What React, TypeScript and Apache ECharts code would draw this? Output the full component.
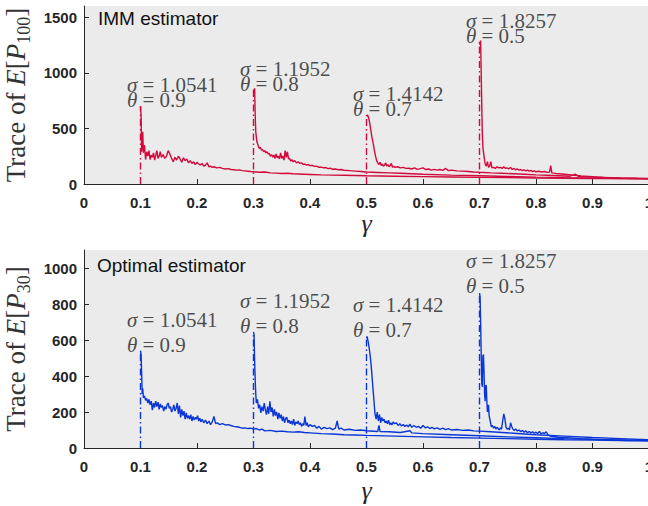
import React, { useEffect, useRef } from "react";
import * as echarts from "echarts";

const RED = "#d20a3c";
const BLUE = "#0a36d8";
const INK = "#262626";

// IMM estimator, Trace of E[P100], curves starting at each switching gamma
const imm01: [number, number][] = [
  [0.1, 700], [0.101, 620], [0.102, 290], [0.104, 470], [0.105, 280], [0.107, 350], [0.109, 220], [0.111, 290],
  [0.113, 250], [0.115, 300], [0.117, 220], [0.119, 260], [0.121, 240], [0.123, 280], [0.125, 215], [0.127, 260],
  [0.129, 300], [0.131, 230], [0.133, 250], [0.135, 290], [0.137, 240], [0.14, 265], [0.143, 230], [0.146, 250],
  [0.149, 300], [0.152, 270], [0.155, 230], [0.158, 200], [0.161, 240], [0.164, 215], [0.167, 250], [0.17, 225],
  [0.173, 195], [0.176, 235], [0.179, 210], [0.182, 225], [0.185, 190], [0.188, 210], [0.191, 185], [0.194, 200],
  [0.197, 175], [0.2, 195], [0.203, 180], [0.206, 170], [0.209, 185], [0.212, 160], [0.215, 170], [0.218, 190],
  [0.221, 155], [0.224, 160], [0.227, 150], [0.23, 155], [0.235, 145], [0.24, 150], [0.245, 140], [0.25, 135],
  [0.255, 138], [0.26, 130], [0.265, 128], [0.27, 125], [0.275, 127], [0.28, 120], [0.285, 118], [0.29, 115],
  [0.295, 112], [0.3, 110], [0.31, 105], [0.32, 108], [0.33, 100], [0.34, 98], [0.35, 95], [0.36, 96],
  [0.37, 92], [0.38, 90], [0.39, 88], [0.4, 86], [0.42, 82], [0.44, 80], [0.46, 78], [0.48, 76], [0.5, 74],
  [0.55, 70], [0.6, 66], [0.65, 63], [0.7, 60], [0.75, 57], [0.8, 54], [0.85, 52], [0.9, 50], [0.95, 48], [1.0, 46],
];
const imm03: [number, number][] = [
  [0.3, 850], [0.301, 830], [0.302, 860], [0.303, 620], [0.304, 470], [0.306, 380], [0.308, 350], [0.31, 320],
  [0.312, 330], [0.314, 305], [0.316, 310], [0.318, 290], [0.32, 300], [0.322, 280], [0.324, 290], [0.326, 270],
  [0.328, 275], [0.33, 250], [0.332, 265], [0.334, 240], [0.336, 260], [0.338, 230], [0.34, 270], [0.342, 235],
  [0.344, 250], [0.346, 225], [0.348, 280], [0.35, 230], [0.352, 250], [0.354, 215], [0.356, 300], [0.358, 240],
  [0.36, 290], [0.362, 225], [0.364, 230], [0.366, 205], [0.368, 220], [0.37, 200], [0.373, 210], [0.376, 190],
  [0.379, 200], [0.382, 185], [0.385, 190], [0.388, 175], [0.391, 180], [0.394, 170], [0.397, 175], [0.4, 165],
  [0.404, 168], [0.408, 158], [0.412, 160], [0.416, 150], [0.42, 152], [0.424, 145], [0.428, 148], [0.432, 138],
  [0.436, 142], [0.44, 132], [0.445, 135], [0.45, 128], [0.455, 130], [0.46, 124], [0.47, 120], [0.48, 116],
  [0.49, 112], [0.5, 108], [0.52, 104], [0.54, 100], [0.56, 96], [0.58, 92], [0.6, 88], [0.65, 80], [0.7, 74],
  [0.75, 68], [0.8, 62], [0.85, 57], [0.9, 53], [0.95, 50], [1.0, 48],
];
const imm05: [number, number][] = [
  [0.5, 610], [0.502, 620], [0.504, 590], [0.506, 540], [0.508, 470], [0.51, 410], [0.512, 360], [0.514, 300],
  [0.516, 250], [0.518, 210], [0.52, 190], [0.522, 175], [0.524, 195], [0.526, 165], [0.528, 180], [0.53, 160],
  [0.532, 170], [0.534, 190], [0.536, 160], [0.538, 175], [0.54, 155], [0.542, 165], [0.544, 185], [0.546, 150],
  [0.548, 160], [0.55, 150], [0.555, 155], [0.56, 145], [0.565, 150], [0.57, 140], [0.575, 142], [0.58, 135],
  [0.585, 145], [0.59, 132], [0.595, 138], [0.6, 145], [0.605, 130], [0.61, 135], [0.615, 125], [0.62, 132],
  [0.625, 125], [0.63, 130], [0.635, 122], [0.64, 140], [0.645, 120], [0.65, 125], [0.66, 118], [0.67, 116],
  [0.68, 112], [0.69, 108], [0.7, 105], [0.72, 100], [0.74, 96], [0.76, 92], [0.78, 88], [0.8, 82], [0.82, 78],
  [0.84, 74], [0.86, 70], [0.87, 88], [0.875, 70], [0.88, 66], [0.9, 62], [0.95, 55], [1.0, 50],
];
const imm07: [number, number][] = [
  [0.7, 1280], [0.701, 1250], [0.702, 1290], [0.703, 1000], [0.704, 700], [0.705, 450], [0.706, 330], [0.708, 250],
  [0.71, 180], [0.712, 160], [0.714, 200], [0.716, 150], [0.718, 160], [0.72, 200], [0.722, 145], [0.725, 150],
  [0.728, 140], [0.731, 155], [0.734, 145], [0.737, 150], [0.74, 140], [0.743, 155], [0.746, 140], [0.749, 145],
  [0.752, 135], [0.755, 150], [0.758, 130], [0.761, 140], [0.764, 128], [0.767, 135], [0.77, 125], [0.773, 130],
  [0.776, 120], [0.779, 128], [0.782, 118], [0.785, 125], [0.788, 115], [0.791, 122], [0.794, 112], [0.797, 118],
  [0.8, 110], [0.805, 115], [0.81, 108], [0.815, 112], [0.82, 105], [0.824, 108], [0.826, 165], [0.828, 100],
  [0.835, 95], [0.845, 90], [0.855, 85], [0.865, 80], [0.88, 72], [0.9, 66], [0.92, 60], [0.94, 55], [0.96, 52],
  [0.98, 49], [1.0, 47],
];

// Optimal estimator, Trace of E[P30]
const opt01: [number, number][] = [
  [0.1, 540], [0.101, 520], [0.102, 420], [0.103, 300], [0.104, 330], [0.105, 280], [0.107, 290], [0.109, 265],
  [0.111, 275], [0.113, 250], [0.115, 270], [0.117, 240], [0.119, 260], [0.121, 210], [0.123, 250], [0.125, 225],
  [0.127, 260], [0.129, 230], [0.131, 255], [0.133, 215], [0.135, 245], [0.137, 225], [0.139, 235], [0.141, 205],
  [0.143, 230], [0.145, 215], [0.147, 240], [0.149, 250], [0.151, 220], [0.153, 230], [0.155, 200], [0.157, 215],
  [0.159, 240], [0.161, 205], [0.163, 220], [0.165, 250], [0.167, 190], [0.169, 235], [0.171, 170], [0.173, 215],
  [0.175, 180], [0.177, 205], [0.179, 160], [0.181, 195], [0.183, 165], [0.185, 180], [0.187, 160], [0.189, 185],
  [0.191, 150], [0.193, 175], [0.195, 155], [0.197, 170], [0.199, 160], [0.201, 180], [0.203, 150], [0.205, 165],
  [0.207, 145], [0.209, 160], [0.212, 140], [0.215, 155], [0.218, 135], [0.221, 150], [0.224, 130], [0.227, 145],
  [0.23, 175], [0.233, 135], [0.236, 140], [0.24, 130], [0.245, 135], [0.25, 128], [0.255, 130], [0.26, 125],
  [0.265, 120], [0.27, 118], [0.275, 115], [0.28, 110], [0.285, 112], [0.29, 108], [0.295, 110], [0.3, 105],
  [0.305, 108], [0.31, 100], [0.315, 105], [0.32, 95], [0.33, 98], [0.34, 92], [0.35, 94], [0.36, 90], [0.37, 88],
  [0.38, 90], [0.39, 86], [0.4, 84], [0.42, 80], [0.44, 78], [0.46, 74], [0.48, 72], [0.5, 70], [0.55, 66],
  [0.6, 62], [0.65, 58], [0.7, 55], [0.75, 52], [0.8, 49], [0.85, 46], [0.9, 44], [0.95, 42], [1.0, 40],
];
const opt03: [number, number][] = [
  [0.3, 645], [0.301, 630], [0.302, 480], [0.303, 380], [0.304, 300], [0.305, 250], [0.307, 270], [0.309, 220],
  [0.311, 240], [0.313, 195], [0.315, 230], [0.317, 205], [0.319, 250], [0.321, 210], [0.323, 185], [0.325, 230],
  [0.327, 190], [0.329, 260], [0.331, 200], [0.333, 225], [0.335, 175], [0.337, 215], [0.339, 180], [0.341, 200],
  [0.343, 160], [0.345, 195], [0.347, 165], [0.349, 185], [0.351, 150], [0.353, 175], [0.355, 140], [0.357, 165],
  [0.359, 170], [0.361, 140], [0.363, 155], [0.365, 135], [0.367, 150], [0.369, 130], [0.371, 160], [0.373, 125],
  [0.375, 145], [0.377, 135], [0.379, 150], [0.381, 130], [0.383, 140], [0.385, 120], [0.387, 135], [0.389, 125],
  [0.391, 175], [0.393, 125], [0.395, 140], [0.397, 118], [0.4, 130], [0.404, 120], [0.408, 125], [0.412, 110],
  [0.416, 120], [0.42, 105], [0.425, 115], [0.43, 108], [0.435, 112], [0.44, 102], [0.445, 110], [0.448, 150],
  [0.451, 105], [0.455, 110], [0.46, 100], [0.47, 104], [0.48, 98], [0.49, 100], [0.5, 96], [0.52, 92], [0.522, 125],
  [0.524, 92], [0.54, 90], [0.56, 86], [0.577, 96], [0.58, 84], [0.6, 80], [0.65, 74], [0.7, 68], [0.75, 62],
  [0.8, 57], [0.85, 52], [0.9, 48], [0.95, 45], [1.0, 42],
];
const opt05: [number, number][] = [
  [0.5, 610], [0.501, 620], [0.503, 590], [0.505, 550], [0.507, 500], [0.509, 430], [0.511, 350], [0.513, 270],
  [0.515, 190], [0.517, 160], [0.519, 200], [0.521, 150], [0.523, 185], [0.525, 140], [0.527, 170], [0.529, 150],
  [0.531, 160], [0.533, 140], [0.535, 150], [0.537, 135], [0.539, 155], [0.541, 130], [0.543, 140], [0.545, 128],
  [0.547, 145], [0.55, 135], [0.553, 140], [0.556, 125], [0.559, 135], [0.562, 122], [0.565, 130], [0.568, 120],
  [0.571, 128], [0.574, 118], [0.577, 132], [0.58, 115], [0.584, 125], [0.588, 115], [0.592, 120], [0.596, 110],
  [0.6, 125], [0.604, 112], [0.608, 118], [0.612, 108], [0.616, 115], [0.62, 106], [0.625, 112], [0.63, 104],
  [0.635, 110], [0.64, 102], [0.645, 108], [0.65, 100], [0.66, 103], [0.67, 98], [0.68, 100], [0.69, 95],
  [0.7, 94], [0.72, 90], [0.74, 86], [0.76, 82], [0.78, 78], [0.8, 74], [0.85, 66], [0.9, 58], [0.95, 52], [1.0, 46],
];
const opt07: [number, number][] = [
  [0.7, 860], [0.701, 840], [0.702, 700], [0.703, 520], [0.704, 360], [0.705, 340], [0.706, 510], [0.707, 520],
  [0.708, 420], [0.709, 300], [0.71, 260], [0.711, 350], [0.712, 345], [0.713, 260], [0.714, 200], [0.715, 220],
  [0.716, 240], [0.717, 180], [0.719, 150], [0.721, 118], [0.723, 125], [0.725, 110], [0.727, 120], [0.729, 105],
  [0.731, 115], [0.733, 108], [0.735, 100], [0.737, 112], [0.739, 105], [0.741, 150], [0.743, 190], [0.745, 160],
  [0.747, 115], [0.749, 105], [0.751, 110], [0.753, 100], [0.755, 140], [0.757, 120], [0.759, 105], [0.761, 98],
  [0.764, 105], [0.767, 95], [0.77, 100], [0.773, 90], [0.776, 98], [0.779, 88], [0.782, 95], [0.785, 85],
  [0.788, 92], [0.791, 84], [0.794, 90], [0.797, 82], [0.8, 88], [0.803, 80], [0.806, 92], [0.809, 78], [0.812, 85],
  [0.815, 80], [0.818, 90], [0.821, 75], [0.824, 68], [0.83, 64], [0.84, 60], [0.86, 56], [0.88, 52], [0.9, 49],
  [0.92, 46], [0.94, 44], [0.96, 42], [0.98, 41], [1.0, 40],
];

const switchGammas = [0.1, 0.3, 0.5, 0.7];
const sigmaValues = ["1.0541", "1.1952", "1.4142", "1.8257"];
const thetaValues = ["0.9", "0.8", "0.7", "0.5"];
// annotation anchors (left edge, vertical centre) in data coordinates
const immLabelAnchors: [number, number][] = [[0.076, 818], [0.276, 963], [0.476, 741], [0.676, 1397]];
const optLabelAnchors: [number, number][] = [[0.076, 642], [0.276, 745], [0.476, 726], [0.676, 967]];

const immCurves = [imm01, imm03, imm05, imm07];
const optCurves = [opt01, opt03, opt05, opt07];

const SERIF = "'Liberation Serif', 'DejaVu Serif', serif";
const SANS = "'Liberation Sans', Arial, Helvetica, sans-serif";

function xAxisFor(gridIndex: number, gap: number) {
  return {
    type: "value",
    gridIndex,
    min: 0,
    max: 1,
    interval: 0.1,
    name: "γ",
    nameLocation: "middle",
    nameGap: gap,
    nameTextStyle: { fontFamily: SERIF, fontStyle: "italic", fontSize: 26, color: INK },
    axisLine: { show: true, onZero: false, lineStyle: { color: INK, width: 1 } },
    axisTick: { show: true, inside: true, length: 5, lineStyle: { color: INK } },
    axisLabel: {
      margin: 11,
      fontFamily: SANS,
      fontWeight: "bold",
      fontSize: 15,
      color: INK,
      formatter: (v: number) => String(Math.round(v * 10) / 10),
    },
    splitLine: { show: false },
  };
}

function yAxisFor(gridIndex: number, max: number, interval: number, sub: string) {
  return {
    type: "value",
    gridIndex,
    min: 0,
    max,
    interval,
    name: `{a|Trace of }{i|E}{a|[}{i|P}{s|${sub}}{a|]}`,
    nameLocation: "middle",
    nameGap: 47,
    nameTextStyle: {
      color: INK,
      rich: {
        a: { fontFamily: SERIF, fontSize: 27, lineHeight: 34, color: "#333" },
        i: { fontFamily: SERIF, fontStyle: "italic", fontSize: 27, lineHeight: 34, color: "#333" },
        s: { fontFamily: SERIF, fontSize: 18, lineHeight: 34, verticalAlign: "bottom", color: "#333" },
      },
    },
    axisLine: { show: true, lineStyle: { color: INK, width: 1 } },
    axisTick: { show: true, inside: true, length: 5, lineStyle: { color: INK } },
    axisLabel: {
      margin: 7,
      fontFamily: SANS,
      fontWeight: "bold",
      fontSize: 15,
      color: INK,
      showMaxLabel: false,
      formatter: (v: number) => String(v),
    },
    splitLine: { show: false },
  };
}

function panelSeries(idx: number, curves: [number, number][][], anchors: [number, number][], color: string, lh: number) {
  const out: any[] = [];
  curves.forEach((c) => {
    out.push({
      type: "line",
      xAxisIndex: idx,
      yAxisIndex: idx,
      data: c,
      showSymbol: false,
      symbol: "none",
      lineStyle: { color, width: 1.4 },
      z: 3,
    });
  });
  curves.forEach((c, k) => {
    const peak = Math.max(...c.map((p) => p[1]));
    out.push({
      type: "line",
      xAxisIndex: idx,
      yAxisIndex: idx,
      data: [[switchGammas[k], 0], [switchGammas[k], peak]],
      showSymbol: false,
      symbol: "none",
      lineStyle: { color, width: 1.4, type: [7, 3, 1.5, 3] },
      z: 4,
    });
  });
  out.push({
    type: "scatter",
    xAxisIndex: idx,
    yAxisIndex: idx,
    symbolSize: 0,
    silent: true,
    z: 6,
    data: anchors.map((a, k) => ({ value: a, sig: sigmaValues[k], th: thetaValues[k] })),
    label: {
      show: true,
      position: "right",
      distance: 0,
      formatter: (p: any) => `{g|σ}{n| = ${p.data.sig}}\n{g|θ}{n| = ${p.data.th}}`,
      rich: {
        g: { fontFamily: SERIF, fontStyle: "italic", fontSize: 21, lineHeight: lh, color: "#222" },
        n: { fontFamily: SERIF, fontSize: 21, lineHeight: lh, color: "#222" },
      },
    },
  });
  return out;
}

export default function App() {
  const ref = useRef<HTMLDivElement>(null);
  useEffect(() => {
    document.body.style.margin = "0";
    if (!ref.current) return;
    const chart = echarts.init(ref.current, undefined, { renderer: "svg" });
    chart.setOption({
      animation: false,
      backgroundColor: "#ffffff",
      title: [
        { text: "IMM estimator", left: 98, top: 9, padding: 0, textStyle: { fontFamily: SANS, fontWeight: "normal", fontSize: 19, color: "#111" } },
        { text: "Optimal estimator", left: 97, top: 256, padding: 0, textStyle: { fontFamily: SANS, fontWeight: "normal", fontSize: 19, color: "#111" } },
      ],
      grid: [
        { left: 84, top: 6, width: 565, height: 178, outerBoundsMode: "none", containLabel: false, show: true, backgroundColor: "#ebebeb", borderWidth: 0 },
        { left: 84, top: 250, width: 565, height: 198, outerBoundsMode: "none", containLabel: false, show: true, backgroundColor: "#ebebeb", borderWidth: 0 },
      ],
      xAxis: [xAxisFor(0, 26), xAxisFor(1, 29)],
      yAxis: [yAxisFor(0, 1600, 500, "100"), yAxisFor(1, 1100, 200, "30")],
      series: [
        ...panelSeries(0, immCurves, immLabelAnchors, RED, 15),
        ...panelSeries(1, optCurves, optLabelAnchors, BLUE, 25),
      ],
    });
    return () => chart.dispose();
  }, []);
  return <div ref={ref} style={{ width: 648, height: 506 }} />;
}
